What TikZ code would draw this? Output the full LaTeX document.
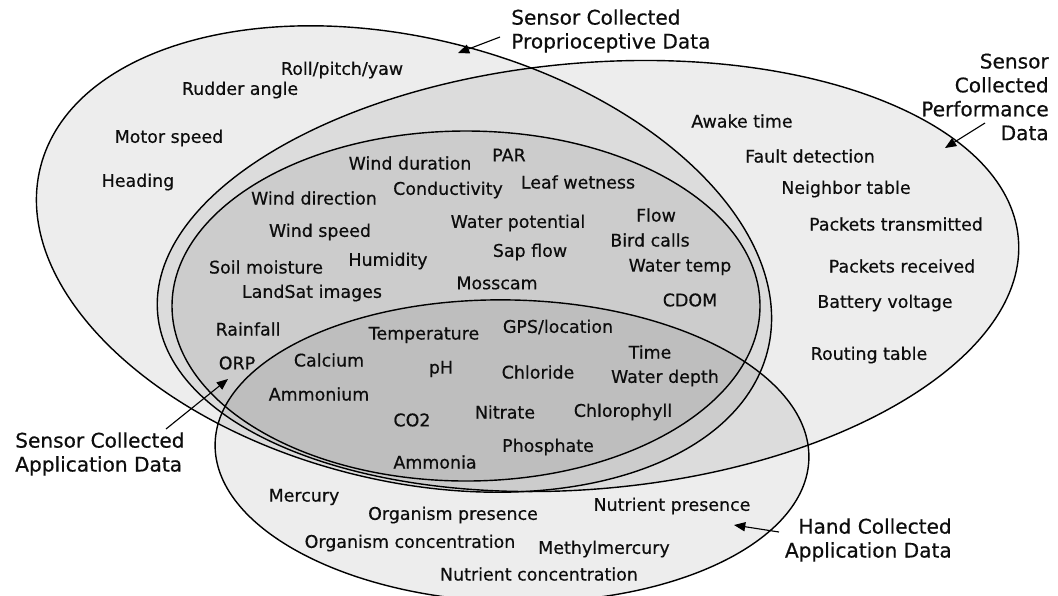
\documentclass[tikz,border=0pt]{standalone}
\usepackage{fontspec}
\setmainfont{DejaVu Sans}[FakeBold=0.5]
\usetikzlibrary{arrows.meta,positioning}

\newcommand{\itemfont}{\fontsize{12.4}{14}\selectfont}
\newcommand{\setfont}{\fontsize{14.3}{17}\selectfont}

\begin{document}
\begin{tikzpicture}[
    x=0.025cm, y=-0.025cm,
    region/.style={fill=black, fill opacity=0.07, draw=black, line width=1pt},
    item/.style={font=\itemfont, inner sep=0pt, text=black!95},
    setlabel/.style={font=\setfont, inner sep=0pt, text=black!95},
    pointer/.style={-{Triangle[length=8pt,width=6.5pt]}, line width=0.8pt, black}
]
\useasboundingbox (0,0) rectangle (1058,595);

% the four sets
\draw[region, rotate around={-14.2:(404,259)}] (404,259) ellipse (375 and 221); % proprioceptive
\draw[region, rotate around={5.0:(588,276)}] (588,276) ellipse (432 and 213);   % performance
\draw[region] (466,306) ellipse (294 and 175);                                  % sensor application
\draw[region, rotate around={-1.5:(512,451)}] (512,451) ellipse (297 and 151);  % hand application

% Proprioceptive only
\node[item] (roll) at (342,70) {Roll/pitch/yaw};
\node[item] (rudder) at (240,90) {Rudder angle};
\node[item] (motor) at (169,138) {Motor speed};
\node[item] (heading) at (138,182) {Heading};

% Sensor collected application data
\node[item] (windDur) at (410,163) {Wind duration};
\node[item] (par) at (509,155) {PAR};
\node[item] (windDir) at (314,198) {Wind direction};
\node[item] (conduct) at (448,190) {Conductivity};
\node[item] (leafWet) at (578,182) {Leaf wetness};
\node[item] (windSpd) at (320,232) {Wind speed};
\node[item] (waterPot) at (518,223) {Water potential};
\node[item] (flow) at (656,215) {Flow};
\node[item] (birdCalls) at (650,240) {Bird calls};
\node[item] (sapFlow) at (530,252) {Sap flow};
\node[item] (soilMoist) at (266,267) {Soil moisture};
\node[item] (humidity) at (388,261) {Humidity};
\node[item] (waterTemp) at (680,267) {Water temp};
\node[item] (mosscam) at (497,283) {Mosscam};
\node[item] (landsat) at (312,293) {LandSat images};
\node[item] (cdom) at (690,300) {CDOM};
\node[item] (rainfall) at (248,329) {Rainfall};
\node[item] (orp) at (237,363) {ORP};

% Sensor and hand collected
\node[item] (temperature) at (424,335) {Temperature};
\node[item] (gps) at (558,327) {GPS/location};
\node[item] (calcium) at (329,360) {Calcium};
\node[item] (ph) at (441,369) {pH};
\node[item] (chloride) at (538,372) {Chloride};
\node[item] (time) at (650,352) {Time};
\node[item] (waterDepth) at (665,378) {Water depth};
\node[item] (ammonium) at (319,394) {Ammonium};
\node[item] (co2) at (412,420) {CO2};
\node[item] (nitrate) at (505,412) {Nitrate};
\node[item] (chlorophyll) at (623,412) {Chlorophyll};
\node[item] (phosphate) at (548,447) {Phosphate};
\node[item] (ammonia) at (435,462) {Ammonia};

% Hand collected only
\node[item] (mercury) at (304,497) {Mercury};
\node[item] (orgPres) at (453,515) {Organism presence};
\node[item] (nutPres) at (672,506) {Nutrient presence};
\node[item] (orgConc) at (410,543) {Organism concentration};
\node[item] (methyl) at (604,549) {Methylmercury};
\node[item] (nutConc) at (539,574) {Nutrient concentration};

% Performance only
\node[item] (awake) at (742,121) {Awake time};
\node[item] (fault) at (810,156) {Fault detection};
\node[item] (neighbor) at (846,189) {Neighbor table};
\node[item] (pktTx) at (896,224) {Packets transmitted};
\node[item] (pktRx) at (902,266) {Packets received};
\node[item] (battery) at (885,303) {Battery voltage};
\node[item] (routing) at (869,355) {Routing table};

% Set names with pointers
\node[setlabel, anchor=west, align=left] (lblProp) at (511,31) {Sensor Collected\\Proprioceptive Data};
\node[setlabel, anchor=east, align=right] (lblPerf) at (1049,97) {Sensor\\Collected\\Performance\\Data};
\node[setlabel, anchor=west, align=left] (lblSens) at (15,454) {Sensor Collected\\Application Data};
\node[setlabel, anchor=east, align=right] (lblHand) at (952,540) {Hand Collected\\Application Data};

\coordinate (tailProp) at (500,37);
\coordinate (tipProp) at (458,53);
\coordinate (tailPerf) at (985,123);
\coordinate (tipPerf) at (945,148);
\coordinate (tailSens) at (166,429);
\coordinate (tipSens) at (228,379);
\coordinate (tailHand) at (779,532);
\coordinate (tipHand) at (734,525);

\draw[pointer] (tailProp) -- (tipProp);
\draw[pointer] (tailPerf) -- (tipPerf);
\draw[pointer] (tailSens) -- (tipSens);
\draw[pointer] (tailHand) -- (tipHand);

\end{tikzpicture}
\end{document}
